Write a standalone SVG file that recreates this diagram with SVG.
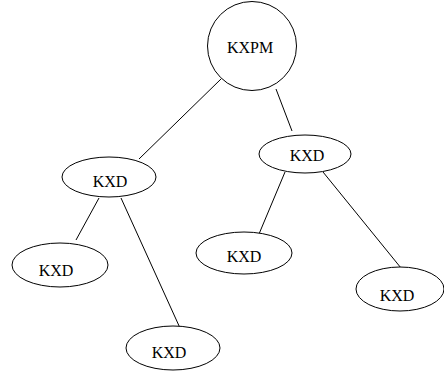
<svg xmlns="http://www.w3.org/2000/svg" width="444" height="371" viewBox="0 0 444 371">
<style>
.n{fill:#fff;stroke:#000;stroke-width:1}
.t{font-family:"Liberation Serif","Times New Roman",serif;font-size:16px;text-anchor:middle;fill:#000}
.e{stroke:#000;stroke-width:1;fill:none}
</style>
<rect width="444" height="371" fill="#fff"/>
<g id="edges">
<line class="e" x1="221" y1="79" x2="139" y2="159"/>
<line class="e" x1="276" y1="89" x2="292" y2="131"/>
<line class="e" x1="99" y1="198" x2="76" y2="240"/>
<line class="e" x1="121" y1="198" x2="180" y2="328"/>
<line class="e" x1="285" y1="172" x2="259" y2="234"/>
<line class="e" x1="323" y1="172" x2="401" y2="268"/>
</g>
<g id="root"><circle class="n" cx="252" cy="46" r="44.5"/><text class="t" x="250" y="53">KXPM</text></g>
<g id="l"><ellipse class="n" cx="109" cy="177" rx="47" ry="20"/><text class="t" x="110" y="187">KXD</text></g>
<g id="r"><ellipse class="n" cx="305" cy="154" rx="46" ry="19"/><text class="t" x="307" y="161">KXD</text></g>
<g id="ll"><ellipse class="n" cx="60" cy="265" rx="48" ry="22"/><text class="t" x="56" y="276">KXD</text></g>
<g id="lr"><ellipse class="n" cx="173" cy="348" rx="47" ry="22"/><text class="t" x="169" y="358">KXD</text></g>
<g id="rl"><ellipse class="n" cx="244" cy="253" rx="48" ry="21"/><text class="t" x="244" y="262">KXD</text></g>
<g id="rr"><ellipse class="n" cx="400" cy="289" rx="44" ry="22"/><text class="t" x="397" y="301">KXD</text></g>
</svg>
